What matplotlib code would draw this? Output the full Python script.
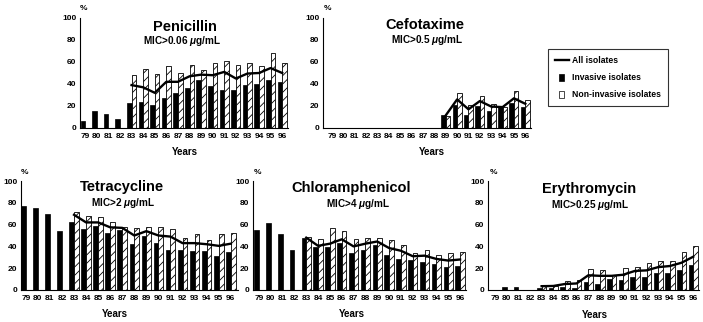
import numpy as np
import matplotlib
matplotlib.use("Agg")
import matplotlib.pyplot as plt
from matplotlib.lines import Line2D
from matplotlib.patches import Patch, Rectangle
from matplotlib.legend_handler import HandlerPatch

plt.rcParams['font.family'] = ['Liberation Sans', 'DejaVu Sans']
plt.rcParams['font.weight'] = 'bold'
plt.rcParams['mathtext.fontset'] = 'custom'
plt.rcParams['mathtext.it'] = 'Liberation Sans:italic:bold'
plt.rcParams['mathtext.rm'] = 'Liberation Sans:bold'
plt.rcParams['hatch.linewidth'] = 0.6

# --- dati (% resistenti) ---
years = np.arange(79, 97)
year_labels = [str(y) for y in years]
na = np.nan

pen_inv = [6, 15.5, 13, 8, 23, 24, 21, 27, 32, 36.5, 44, 38, 35, 34.5, 39.5, 40, 43.5, 42]
pen_non = [na, na, na, na, 48, 54, 49, 56, 50, 57.5, 53, 59.5, 61, 57, 59, 56, 68, 59]
pen_all = [na, na, na, na, 39, 37, 32, 42, 42, 47, 48.5, 48, 51, 45, 49.5, 50, 54.5, 50]

cef_inv = [na] * 10 + [12, 21, 12, 20, 15.5, 19, 23, 19.5]
cef_non = [na] * 10 + [11, 31.5, 21, 29.5, 21.5, 19, 33.5, 25.5]
cef_all = [na] * 10 + [11.5, 26, 17, 24.5, 19.5, 19, 27, 22]

tet_inv = [77, 75, 70, 54, 62.5, 56, 59, 52, 55, 42.5, 49.5, 43.5, 37, 36.5, 36, 36, 31.5, 35]
tet_non = [na, na, na, na, 72, 68, 67, 62.5, 58, 57, 58, 58, 56, 48, 51, 45.5, 51.5, 52.5]
tet_all = [na, na, na, na, 69, 62, 62, 57.5, 57, 50, 54, 50, 49, 43, 43, 42, 40.5, 42.5]

chl_inv = [55, 61.5, 51, 37, 48, 39.5, 39, 43, 33.5, 36.5, 41, 32, 28, 27.5, 25.5, 23.5, 21.5, 22]
chl_non = [na, na, na, na, 49, 47, 56.5, 54, 46.5, 48, 48, 45.5, 41, 33.5, 37, 32.5, 33.5, 34.5]
chl_all = [na, na, na, na, 48, 40.5, 42.5, 46.5, 40, 42.5, 44.5, 38.5, 36, 31, 31.5, 28.5, 27, 28]

ery_inv = [0, 3, 2.5, 0, 2, 2, 2.5, 2, 7.5, 5.5, 10.5, 9, 11.5, 11.5, 16, 16, 18.5, 22.5]
ery_non = [na, na, na, na, 3.5, 4, 8.5, 9, 19, 18, 13.5, 20.5, 21, 24.5, 27, 27, 34.5, 40]
ery_all = [na, na, na, na, 3.5, 3.7, 5.5, 6, 13.5, 13, 13, 14, 17.5, 18, 21, 22, 25, 30.5]

W, H = 703, 322
fig = plt.figure(figsize=(W / 100, H / 100), dpi=100, facecolor='white')

def rect(left, bottom, right, top):
    # pixel (dall'alto) -> coordinate figura
    return [left / W, 1 - bottom / H, (right - left) / W, (bottom - top) / H]

def ftext(x, y, s, **kw):
    fig.text(x / W, 1 - y / H, s, ha='center', va='center', **kw)

def panel(box, xlim, inv, non, tot, title, sub, title_xy, sub_xy, pct_xy, years_xy):
    ax = fig.add_axes(rect(*box))
    ax.bar(years - 0.2, inv, width=0.4, color='black', edgecolor='black', lw=0.5, zorder=2)
    ax.bar(years + 0.2, non, width=0.4, color='white', edgecolor='black', lw=0.6,
           hatch='////', zorder=2)
    ax.plot(years, tot, color='black', lw=1.7, zorder=3, solid_joinstyle='round')
    ax.set_xlim(*xlim)
    ax.set_ylim(0, 100)
    ax.set_yticks(range(0, 101, 20))
    ax.set_xticks(years)
    ax.set_xticklabels(year_labels)
    ax.tick_params(length=0, labelsize=6, pad=2.5)
    ax.tick_params(axis='x', pad=3.5)
    for s in ['top', 'right']:
        ax.spines[s].set_visible(False)
    for s in ['left', 'bottom']:
        ax.spines[s].set_linewidth(0.8)
    ax.patch.set_alpha(0)
    ftext(*title_xy, title, fontsize=10.5)
    ftext(*sub_xy, sub, fontsize=7.2)
    ftext(*pct_xy, '%', fontsize=6)
    ftext(*years_xy, 'Years', fontsize=7)
    return ax

panel((80, 128, 288, 18), (78.55, 96.5), pen_inv, pen_non, pen_all,
      'Penicillin', r'MIC>0.06 $\mu$g/mL', (185, 27), (182, 41), (84, 8), (185, 152))
panel((323, 128, 531, 18), (78.2, 96.5), cef_inv, cef_non, cef_all,
      'Cefotaxime', r'MIC>0.5 $\mu$g/mL', (425, 25), (427, 40), (327, 8), (432, 152))
panel((21, 290, 238, 181), (78.6, 96.6), tet_inv, tet_non, tet_all,
      'Tetracycline', r'MIC>2 $\mu$g/mL', (122, 187), (123, 203), (24, 172), (115, 314))
panel((253, 290, 466, 181), (78.5, 96.5), chl_inv, chl_non, chl_all,
      'Chloramphenicol', r'MIC>4 $\mu$g/mL', (351, 188), (358, 204), (258, 172), (352, 314))
panel((488, 290, 699, 181), (78.4, 96.5), ery_inv, ery_non, ery_all,
      'Erythromycin', r'MIC>0.25 $\mu$g/mL', (589, 189), (590, 205), (493, 173), (595, 315))

# --- legenda ---
def small_box(legend, orig_handle, xdescent, ydescent, width, height, fontsize):
    return Rectangle((-xdescent + width * 0.3, -ydescent), width * 0.35, height)

handles = [Line2D([], [], color='black', lw=1.7),
           Patch(facecolor='black', edgecolor='black', lw=0.5),
           Patch(facecolor='white', edgecolor='black', lw=0.5, hatch='//')]
labels = ['All isolates', 'Invasive isolates', 'Non-invasive isolates']
leg = fig.legend(handles, labels, loc='upper left', bbox_to_anchor=(548 / W, 1 - 49 / H),
                 fontsize=6.2, frameon=True, fancybox=False, edgecolor='black',
                 borderpad=0.8, labelspacing=0.95, handlelength=1.6, handleheight=0.9,
                 handletextpad=0.4, borderaxespad=0,
                 handler_map={Patch: HandlerPatch(patch_func=small_box)})
leg.get_frame().set_linewidth(0.8)

fig.savefig('out.png', dpi=100, facecolor='white')
